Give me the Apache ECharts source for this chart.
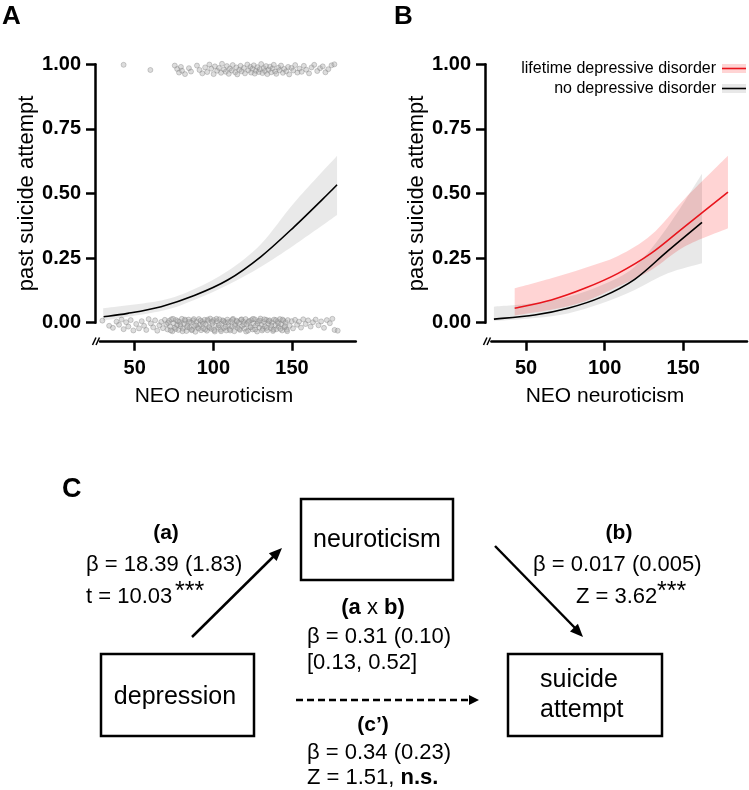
<!DOCTYPE html>
<html><head><meta charset="utf-8">
<script src="https://cdn.jsdelivr.net/npm/echarts@6/dist/echarts.min.js"></script>
<style>html,body{margin:0;padding:0;background:#fff}#c{width:749px;height:790px}</style>
</head><body><div id="c"></div>
<script>
// ---------- tick labels ----------
const xTickValues = [50, 100, 150];
const yTickStep = 0.25;
const xTitle = 'NEO neuroticism';
const yTitle = 'past suicide attempt';

// ---------- Panel A: raw observations (jittered) ----------
const attemptYes = [
[43.0,0.998],[60.0,0.978],[75.5,0.995],[77.0,0.982],[78.2,0.968],[79.4,0.990],[80.1,0.975],[82.0,0.962],[84.5,0.985],[85.8,0.972],
[89.6,0.995],[91.2,0.978],[93.0,0.965],[94.8,0.988],[96.1,0.970],[97.5,0.999],[98.7,0.983],[100.2,0.962],[101.0,0.992],[102.4,0.975],
[103.6,0.986],[104.9,0.967],[105.5,1.002],[106.8,0.980],[107.9,0.971],[108.6,0.993],[109.8,0.963],[110.5,0.984],[111.7,0.976],[112.3,0.997],
[113.9,0.969],[114.6,0.988],[115.2,0.961],[116.5,0.979],[117.3,0.994],[118.0,0.973],[119.4,0.986],[120.1,0.965],[121.6,0.999],[122.2,0.977],
[123.5,0.990],[124.0,0.968],[124.8,0.983],[125.7,0.996],[126.3,0.964],[127.1,0.975],[128.0,0.989],[128.9,0.970],[129.5,0.981],[130.4,1.001],
[131.2,0.966],[132.0,0.985],[132.8,0.974],[133.5,0.993],[134.3,0.962],[135.1,0.979],[136.0,0.991],[136.7,0.969],[137.6,0.984],[138.4,0.998],
[139.2,0.972],[140.0,0.963],[141.3,0.987],[142.1,0.977],[143.0,0.995],[144.2,0.967],[145.0,0.982],[146.3,0.973],[147.5,0.990],[148.2,0.961],
[149.6,0.986],[150.8,0.976],[152.0,0.997],[153.4,0.968],[154.7,0.983],[156.1,0.971],[157.5,0.994],[159.0,0.979],[160.8,0.965],[162.4,0.988],
[164.1,0.998],[166.0,0.974],[167.8,0.985],[169.5,0.992],[171.2,0.969],[173.0,0.981],[175.1,0.996],[176.9,1.000]
];
const attemptNo = [
[29.5,0.008],[33.8,-0.012],[36.2,-0.020],[38.5,0.004],[40.1,-0.008],[41.7,0.012],[43.0,-0.025],[44.6,0.002],[46.0,-0.015],[47.5,0.010],
[49.2,-0.030],[51.0,-0.005],[52.8,-0.022],[54.5,0.006],[56.0,-0.012],[57.4,-0.028],[58.9,0.014],[60.3,-0.003],[61.8,-0.018],[63.0,0.009],
[64.4,-0.031],[65.7,-0.010],[66.9,0.003],[68.0,-0.021],[69.2,0.011],[70.1,-0.006],[70.9,-0.026],[71.8,0.007],[72.5,-0.015],[73.3,0.013],
[74.0,-0.033],[74.8,-0.002],[75.5,-0.019],[76.3,0.010],[77.0,-0.009],[77.8,-0.028],[78.5,0.004],[79.2,-0.014],[80.0,0.015],[80.7,-0.023],
[81.4,-0.004],[82.1,0.008],[82.9,-0.032],[83.6,-0.011],[84.3,0.012],[85.0,-0.020],[85.8,0.001],[86.5,-0.027],[87.2,0.009],[87.9,-0.013],
[88.6,-0.035],[89.4,0.005],[90.1,-0.017],[90.8,0.014],[91.5,-0.008],[92.2,-0.029],[93.0,0.003],[93.7,-0.022],[94.4,0.011],[95.1,-0.006],
[95.9,-0.031],[96.6,0.007],[97.3,-0.016],[98.0,0.016],[98.8,-0.024],[99.5,-0.001],[100.2,0.010],[100.9,-0.034],[101.7,-0.012],[102.4,0.006],
[103.1,-0.019],[103.8,0.013],[104.6,-0.027],[105.3,-0.004],[106.0,0.009],[106.7,-0.021],[107.5,0.002],[108.2,-0.030],[108.9,0.012],[109.6,-0.010],
[110.4,-0.025],[111.1,0.005],[111.8,-0.015],[112.5,0.015],[113.3,-0.033],[114.0,-0.007],[114.7,0.008],[115.4,-0.020],[116.2,0.000],[116.9,-0.028],
[117.6,0.011],[118.3,-0.013],[119.1,0.004],[119.8,-0.023],[120.5,0.014],[121.2,-0.005],[122.0,-0.031],[122.7,0.007],[123.4,-0.017],[124.1,0.010],
[124.9,-0.026],[125.6,-0.002],[126.3,0.013],[127.0,-0.011],[127.8,-0.034],[128.5,0.006],[129.2,-0.019],[129.9,0.016],[130.7,-0.008],[131.4,-0.024],
[132.1,0.003],[132.8,-0.014],[133.6,0.011],[134.3,-0.029],[135.0,-0.003],[135.7,0.009],[136.5,-0.021],[137.2,0.001],[137.9,-0.032],[138.6,0.012],
[139.4,-0.010],[140.1,-0.025],[140.8,0.005],[141.5,-0.016],[142.3,0.014],[143.0,-0.006],[143.7,-0.030],[144.4,0.008],[145.2,-0.018],[145.9,0.002],
[146.6,-0.027],[147.3,0.010],[148.5,-0.012],[149.8,0.006],[150.6,-0.022],[151.9,0.011],[153.2,-0.008],[154.4,0.004],[155.7,-0.019],[157.1,0.013],
[158.6,-0.005],[160.2,0.009],[161.8,-0.015],[163.3,0.002],[165.0,0.012],[166.8,-0.010],[168.5,0.005],[170.3,-0.020],[172.1,0.010],[174.0,-0.002],
[175.6,0.015],[177.0,-0.028],[179.0,-0.031],
[71.2,-0.001],[72.9,-0.030],[74.4,0.015],[76.0,-0.024],[77.5,0.006],[79.0,-0.006],[80.4,-0.033],[81.9,0.012],[83.3,-0.017],[84.8,0.003],
[86.2,-0.029],[87.6,0.014],[89.0,-0.010],[90.5,-0.022],[91.9,0.008],[93.4,-0.004],[94.8,-0.026],[96.3,0.012],[97.7,-0.020],[99.2,0.004],
[100.6,-0.029],[102.0,0.015],[103.5,-0.009],[104.9,-0.033],[106.4,0.006],[107.8,-0.016],[109.3,0.002],[110.7,-0.030],[112.2,0.011],[113.6,-0.012],
[115.0,0.005],[116.5,-0.024],[117.9,0.013],[119.4,-0.007],[120.8,-0.034],[122.3,0.003],[123.7,-0.018],[125.2,0.015],[126.6,-0.026],[128.1,-0.003],
[129.5,0.008],[131.0,-0.030],[132.4,0.013],[133.9,-0.020],[135.3,0.006],[136.8,-0.011],[138.2,-0.027],[139.7,0.010],[141.1,-0.002],[142.6,-0.024],
[144.0,0.012],[145.5,-0.013],[146.9,-0.033]
];

// ---------- Panel A: fitted curve + 95% band ----------
const fitA_x = [30.3, 45.6, 66.8, 87.9, 109.1, 130.3, 151.5, 172.6, 178.6];
const fitA_y = [0.023, 0.036, 0.062, 0.105, 0.165, 0.256, 0.372, 0.497, 0.534];
const bandA_x  = [30, 66.8, 87.9, 109.1, 130.3, 151.5, 178.6];
const bandA_lo = [0.008, 0.045, 0.088, 0.146, 0.217, 0.301, 0.417];
const bandA_hi = [0.056, 0.086, 0.130, 0.200, 0.305, 0.465, 0.646];

// ---------- Panel B: fitted curves by group ----------
const depName = 'lifetime depressive disorder';
const noDepName = 'no depressive disorder';
const dep_x  = [42.8, 66.1, 87.3, 108.5, 129.7, 150.9, 178.4];
const dep_y  = [0.056, 0.088, 0.133, 0.191, 0.269, 0.372, 0.505];
const dep_lo = [0.028, 0.050, 0.082, 0.140, 0.204, 0.295, 0.366];
const dep_hi = [0.133, 0.172, 0.212, 0.258, 0.340, 0.480, 0.646];
const noDep_x  = [29.6, 55.5, 76.7, 97.9, 119.1, 140.2, 161.9];
const noDep_y  = [0.014, 0.030, 0.056, 0.099, 0.168, 0.278, 0.388];
const noDep_lo = [0.006, 0.018, 0.036, 0.074, 0.127, 0.191, 0.230];
const noDep_hi = [0.062, 0.076, 0.100, 0.145, 0.217, 0.372, 0.576];

// ---------- helpers ----------
const FONT = '"Liberation Sans", Arial, sans-serif';

// Catmull-Rom -> cubic bezier path through pixel points
function splinePath(pts, first) {
  let d = (first ? 'M' : 'L') + pts[0][0] + ',' + pts[0][1];
  for (let i = 0; i < pts.length - 1; i++) {
    const p0 = pts[Math.max(i - 1, 0)], p1 = pts[i], p2 = pts[i + 1], p3 = pts[Math.min(i + 2, pts.length - 1)];
    const c1 = [p1[0] + (p2[0] - p0[0]) / 6, p1[1] + (p2[1] - p0[1]) / 6];
    const c2 = [p2[0] - (p3[0] - p1[0]) / 6, p2[1] - (p3[1] - p1[1]) / 6];
    d += 'C' + c1[0] + ',' + c1[1] + ',' + c2[0] + ',' + c2[1] + ',' + p2[0] + ',' + p2[1];
  }
  return d;
}

function xAxisCfg(gi) {
  return {
    type: 'value', gridIndex: gi, min: 28, max: 190.5, offset: 19,
    axisLine: { show: true, onZero: false, lineStyle: { color: '#000', width: 2.5 } },
    axisTick: { show: true, length: 9, customValues: xTickValues, lineStyle: { color: '#000', width: 2.5 } },
    axisLabel: { customValues: xTickValues, margin: 17, color: '#000', fontSize: 20, fontWeight: 'bold', fontFamily: FONT },
    splitLine: { show: false }
  };
}
function yAxisCfg(gi, off) {
  return {
    type: 'value', gridIndex: gi, min: 0, max: 1, interval: yTickStep, offset: off,
    name: yTitle, nameLocation: 'middle', nameGap: 55, nameRotate: 90,
    nameTextStyle: { color: '#000', fontSize: 22, fontFamily: FONT },
    axisLine: { show: true, lineStyle: { color: '#000', width: 2.5 } },
    axisTick: { show: true, length: 9, lineStyle: { color: '#000', width: 2.5 } },
    axisLabel: { margin: 14, color: '#000', fontSize: 20, fontWeight: 'bold', fontFamily: FONT,
      formatter: v => v.toFixed(2) },
    splitLine: { show: false }
  };
}
function bandSeries(gi, xs, lo, hi, color, z) {
  return {
    type: 'custom', xAxisIndex: gi, yAxisIndex: gi, z: z, silent: true, clip: false,
    data: xs.map((x, i) => [x, lo[i], hi[i]]),
    encode: { x: 0, y: [1, 2] },
    renderItem: function (params, api) {
      if (params.dataIndex !== 0) return null;
      const top = xs.map((x, i) => api.coord([x, hi[i]]));
      const bot = xs.map((x, i) => api.coord([x, lo[i]])).reverse();
      const d = splinePath(top, true) + splinePath(bot, false) + 'Z';
      return { type: 'path', shape: { pathData: d }, style: { fill: color } };
    }
  };
}
function curve(gi, xs, ys, color, z) {
  return {
    type: 'custom', xAxisIndex: gi, yAxisIndex: gi, z: z, silent: true, clip: false,
    data: xs.map((x, i) => [x, ys[i]]),
    encode: { x: 0, y: 1 },
    renderItem: function (params, api) {
      if (params.dataIndex !== 0) return null;
      const pts = xs.map((x, i) => api.coord([x, ys[i]]));
      return { type: 'path', shape: { pathData: splinePath(pts, true) },
        style: { fill: 'none', stroke: color, lineWidth: 1.6 } };
    }
  };
}
const dotStyle = { color: 'rgba(170,170,170,0.5)', borderColor: 'rgba(130,130,130,0.6)', borderWidth: 0.8 };

const T = (text, x, y, size, opts) => Object.assign({
  type: 'text', silent: true,
  style: Object.assign({ text: text, x: x, y: y, fill: '#000', fontSize: size, fontFamily: FONT,
    textAlign: 'left', textVerticalAlign: 'middle', align: 'left', verticalAlign: 'middle' }, opts || {})
});
const L = (x1, y1, x2, y2, w, dash) => ({ type: 'line', silent: true,
  shape: { x1: x1, y1: y1, x2: x2, y2: y2 }, style: { stroke: '#000', lineWidth: w, lineDash: dash || null } });
function head(x1, y1, x2, y2, len, hw) {
  const dx = x2 - x1, dy = y2 - y1, d = Math.hypot(dx, dy), ux = dx / d, uy = dy / d;
  const bx = x2 - ux * len, by = y2 - uy * len;
  return { type: 'polygon', silent: true, shape: { points: [[x2, y2], [bx - uy * hw, by + ux * hw], [bx + uy * hw, by - ux * hw]] },
    style: { fill: '#000' } };
}
const box = (x, y, w, h) => ({ type: 'rect', silent: true, shape: { x: x, y: y, width: w, height: h },
  style: { fill: 'none', stroke: '#000', lineWidth: 2.5 } });

const graphics = [
  T('A', 2, 17, 26, { fontWeight: 'bold' }),
  T('B', 394, 17, 26, { fontWeight: 'bold' }),
  T('C', 62, 490, 27, { fontWeight: 'bold' }),
  T(xTitle, 214, 396, 21, { textAlign: 'center', align: 'center' }),
  T(xTitle, 605, 396, 21, { textAlign: 'center', align: 'center' }),
  // axis breaks
  L(92.5, 345, 96, 337.5, 1.5), L(96, 345, 99.5, 337.5, 1.5),
  L(483.5, 345, 487, 337.5, 1.5), L(487, 345, 490.5, 337.5, 1.5),
  // legend panel B
  T(depName, 716, 69, 16, { textAlign: 'right', align: 'right' }),
  T(noDepName, 716, 89, 16, { textAlign: 'right', align: 'right' }),
  { type: 'rect', silent: true, shape: { x: 722, y: 64, width: 24, height: 9 }, style: { fill: 'rgba(255,0,0,0.17)' } },
  { type: 'line', silent: true, shape: { x1: 722, y1: 68.5, x2: 746, y2: 68.5 }, style: { stroke: '#e8141c', lineWidth: 1.6 } },
  { type: 'rect', silent: true, shape: { x: 722, y: 84, width: 24, height: 9 }, style: { fill: 'rgba(0,0,0,0.09)' } },
  L(722, 88.5, 746, 88.5, 1.6),
  // panel C boxes
  box(301, 499, 152, 81), box(101, 654, 153, 82), box(508, 654, 154, 82),
  T('neuroticism', 377, 540, 25, { textAlign: 'center', align: 'center' }),
  T('depression', 175, 697, 25, { textAlign: 'center', align: 'center' }),
  T('suicide', 540, 680, 25), T('attempt', 540, 710, 25),
  // path a
  T('(a)', 166, 533, 21, { textAlign: 'center', align: 'center', fontWeight: 'bold' }),
  T('β = 18.39 (1.83)', 86, 565, 22), T('t = 10.03', 86, 597, 22), T('***', 175, 592, 25),
  L(192, 637, 276, 554, 2.5), head(192, 637, 282, 548, 13, 5.5),
  // path b
  T('(b)', 619, 533, 21, { textAlign: 'center', align: 'center', fontWeight: 'bold' }),
  T('β = 0.017 (0.005)', 533, 565, 22), T('Z = 3.62', 576, 597, 22), T('***', 657, 592, 25),
  L(495, 546, 577, 630, 2.5), head(495, 546, 583, 637, 13, 5.5),
  // indirect effect
  { type: 'text', silent: true, style: { text: '{b|(a} x {b|b)}', x: 373, y: 608, fill: '#000', fontSize: 22, fontFamily: FONT,
    textAlign: 'center', align: 'center', textVerticalAlign: 'middle', verticalAlign: 'middle',
    rich: { b: { fontWeight: 'bold', fontSize: 22, fontFamily: FONT, fill: '#000' } } } },
  T('β = 0.31 (0.10)', 307, 637, 22), T('[0.13, 0.52]', 307, 663, 22),
  // direct effect
  L(296, 700, 470, 700, 2.5, [7, 4]), head(296, 700, 479, 700, 10, 5),
  T('(c’)', 373, 725, 21, { textAlign: 'center', align: 'center', fontWeight: 'bold' }),
  T('β = 0.34 (0.23)', 307, 753, 22),
  { type: 'text', silent: true, style: { text: 'Z = 1.51, {b|n.s.}', x: 307, y: 778, fill: '#000', fontSize: 22, fontFamily: FONT,
    textAlign: 'left', align: 'left', textVerticalAlign: 'middle', verticalAlign: 'middle',
    rich: { b: { fontWeight: 'bold', fontSize: 22, fontFamily: FONT, fill: '#000' } } } }
];

const chart = echarts.init(document.getElementById('c'), null, { renderer: 'canvas' });
chart.setOption({
  backgroundColor: '#fff',
  animation: false,
  textStyle: { fontFamily: FONT },
  grid: [
    { left: 100, top: 64.3, width: 255.8, height: 258.4, containLabel: false, outerBoundsMode: 'none' },
    { left: 491.4, top: 64.3, width: 255.6, height: 258.4, containLabel: false, outerBoundsMode: 'none' }
  ],
  xAxis: [xAxisCfg(0), xAxisCfg(1)],
  yAxis: [yAxisCfg(0, 5), yAxisCfg(1, 6.4)],
  series: [
    { type: 'scatter', xAxisIndex: 0, yAxisIndex: 0, data: attemptYes, symbolSize: 5, clip: false, itemStyle: dotStyle, z: 1, silent: true },
    { type: 'scatter', xAxisIndex: 0, yAxisIndex: 0, data: attemptNo, symbolSize: 5, clip: false, itemStyle: dotStyle, z: 1, silent: true },
    bandSeries(0, bandA_x, bandA_lo, bandA_hi, 'rgba(0,0,0,0.085)', 2),
    curve(0, fitA_x, fitA_y, '#000', 4),
    bandSeries(1, dep_x, dep_lo, dep_hi, 'rgba(255,0,0,0.17)', 2),
    bandSeries(1, noDep_x, noDep_lo, noDep_hi, 'rgba(0,0,0,0.09)', 2),
    curve(1, dep_x, dep_y, '#e8141c', 4),
    curve(1, noDep_x, noDep_y, '#000', 5)
  ],
  graphic: { elements: graphics }
});
</script></body></html>
